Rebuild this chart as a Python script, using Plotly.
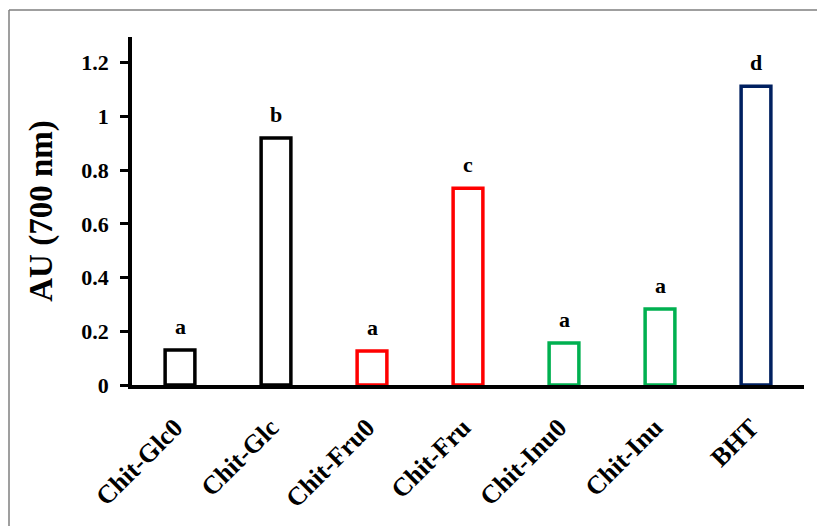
import plotly.graph_objects as go

categories = ["Chit-Glc0", "Chit-Glc", "Chit-Fru0", "Chit-Fru", "Chit-Inu0", "Chit-Inu", "BHT"]
values = [0.13, 0.92, 0.127, 0.733, 0.156, 0.283, 1.113]
letters = ["a", "b", "a", "c", "a", "a", "d"]
colors = ["#000000", "#000000", "#FF0000", "#FF0000", "#00B050", "#00B050", "#002060"]
y_ticks = [0, 0.2, 0.4, 0.6, 0.8, 1, 1.2]
y_tick_labels = ["0", "0.2", "0.4", "0.6", "0.8", "1", "1.2"]

FONT = "Liberation Serif"

fig = go.Figure()
fig.add_trace(go.Bar(
    x=categories, y=values, width=0.31,
    marker=dict(color="rgba(0,0,0,0)", line=dict(color=colors, width=3.5)),
    showlegend=False,
))

for c, v, t in zip(categories, values, letters):
    fig.add_annotation(x=c, y=v, text=f"<b>{t}</b>", showarrow=False,
                       yanchor="bottom", yshift=9,
                       font=dict(family=FONT, size=22, color="black"))

# outer frame (top and left edges visible)
fx = (9 - 132) / 672
fy = (385 - 10) / 348
fig.add_shape(type="line", xref="paper", yref="paper",
              x0=fx, x1=1.1, y0=fy, y1=fy,
              line=dict(color="#7f7f7f", width=1.5))
fig.add_shape(type="line", xref="paper", yref="paper",
              x0=fx, x1=fx, y0=fy, y1=-1,
              line=dict(color="#7f7f7f", width=1.5))

fig.update_layout(
    width=817, height=526,
    margin=dict(l=132, r=13, t=37, b=141),
    paper_bgcolor="white", plot_bgcolor="white",
    font=dict(family=FONT, color="black"),
    xaxis=dict(
        showline=True, linecolor="black", linewidth=4,
        tickangle=-45, ticks="", showgrid=False,
        tickfont=dict(family=FONT, size=26, color="black"),
        tickprefix="<b>", ticksuffix="</b>",
        ticklabelstandoff=13, ticklabelshift=-5,
    ),
    yaxis=dict(
        range=[0, 1.296], showline=True, linecolor="black", linewidth=3.5,
        ticks="outside", ticklen=8, tickwidth=3, tickcolor="black",
        tickvals=y_ticks, ticktext=[f"<b>{t}</b>" for t in y_tick_labels],
        tickfont=dict(family=FONT, size=22, color="black"),
        ticklabelstandoff=7,
        showgrid=False, zeroline=False,
        title=dict(text="<b>AU (700 nm)</b>", font=dict(family=FONT, size=33, color="black"),
                   standoff=20),
    ),
)

fig.write_html("out.html", config={"displayModeBar": False},
               post_script="document.body.style.margin='0';document.body.style.overflow='hidden';")
